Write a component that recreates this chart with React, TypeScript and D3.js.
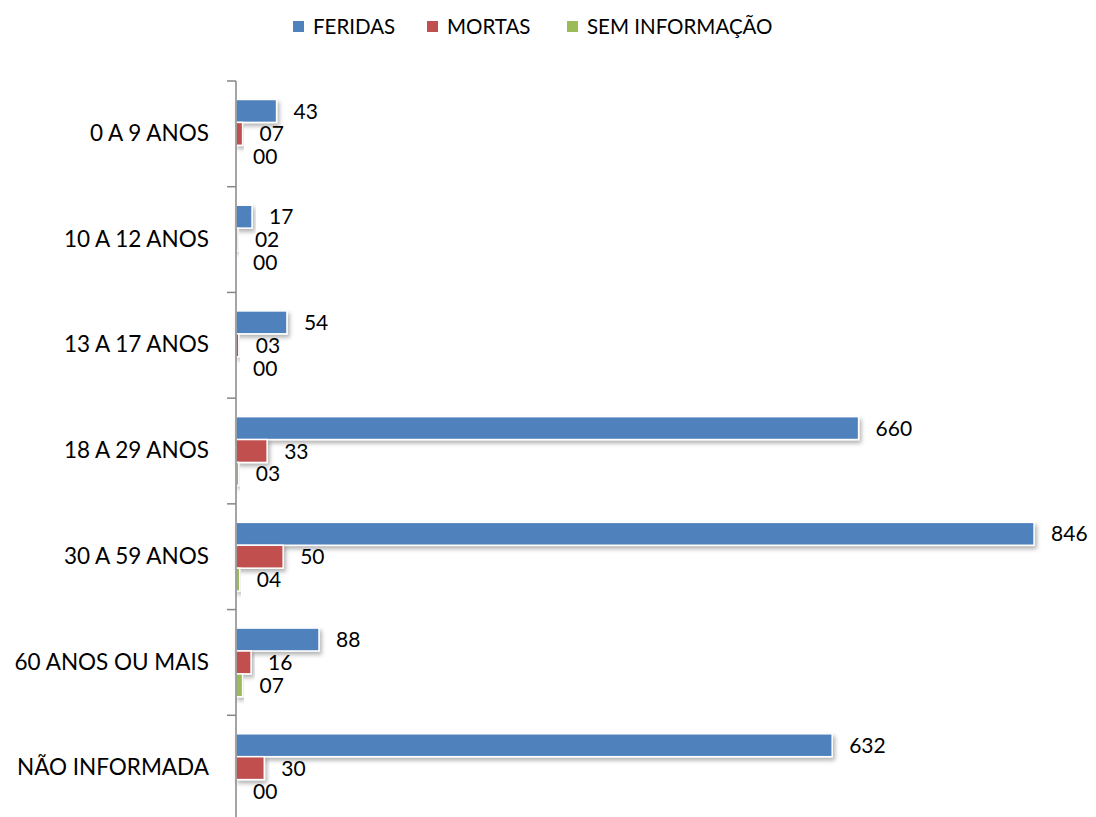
import React, { useEffect, useRef } from "react";
import * as d3 from "d3";

// Vítimas por faixa etária (feridas / mortas / sem informação)

const categories = [
    "0 A 9 ANOS",
    "10 A 12 ANOS",
    "13 A 17 ANOS",
    "18 A 29 ANOS",
    "30 A 59 ANOS",
    "60 ANOS OU MAIS",
    "NÃO INFORMADA",
];
const seriesNames = ["FERIDAS", "MORTAS", "SEM INFORMAÇÃO"];
const seriesColors = ["#4F81BD", "#C0504D", "#9BBB59"];
const feridas = [43, 17, 54, 660, 846, 88, 632];
const mortas = [7, 2, 3, 33, 50, 16, 30];
const semInfo = [0, 0, 0, 3, 4, 7, 0];

const App = () => {
    const svgRef = useRef<SVGSVGElement>(null);

    useEffect(() => {
        const width = 1096;
        const height = 817;
        const font = "Lato, 'Open Sans', sans-serif";
        const values = [feridas, mortas, semInfo];

        const svg = d3.select(svgRef.current);
        svg.selectAll("*").remove();

        const defs = svg.append("defs");
        const f = defs.append("filter").attr("id", "shadow")
            .attr("x", "-10%").attr("y", "-30%").attr("width", "130%").attr("height", "180%");
        f.append("feDropShadow")
            .attr("dx", 2).attr("dy", 3).attr("stdDeviation", 2)
            .attr("flood-color", "#000").attr("flood-opacity", 0.3);

        const x = d3.scaleLinear().domain([0, 900]).range([236, 1085]);
        const y = d3.scaleBand().domain(categories).range([81, 821]).padding(0);
        const inner = d3.scaleBand().domain(seriesNames)
            .range([18.5, y.bandwidth() - 18.5]).padding(0);

        // bars + value labels
        seriesNames.forEach((name, si) => {
            const g = svg.append("g");
            g.selectAll("rect")
                .data(values[si])
                .join("rect")
                .attr("x", x(0))
                .attr("y", (d, i) => y(categories[i])! + inner(name)!)
                .attr("width", d => x(d) - x(0))
                .attr("height", inner.bandwidth())
                .attr("fill", seriesColors[si])
                .attr("stroke", "#fff")
                .attr("stroke-width", 1.5)
                .attr("filter", "url(#shadow)");

            g.selectAll("text")
                .data(values[si])
                .join("text")
                .attr("x", d => x(d) + 17)
                .attr("y", (d, i) => y(categories[i])! + inner(name)! + inner.bandwidth() / 2)
                .attr("dy", "0.36em")
                .attr("font-family", font)
                .attr("font-size", 21)
                .attr("fill", "#000")
                .text(d => d3.format("02d")(d));
        });

        // axis
        const axis = svg.append("g")
            .attr("transform", `translate(${x(0)},0)`)
            .call(d3.axisLeft(y).tickSize(0).tickPadding(27));
        axis.select(".domain").remove();
        axis.selectAll("text")
            .attr("font-family", font)
            .attr("font-size", 22.5)
            .attr("fill", "#000");

        const ticks = [...categories.map(c => y(c)!), y.range()[1]];
        svg.append("g").selectAll("line")
            .data(ticks)
            .join("line")
            .attr("x1", x(0) - 9).attr("x2", x(0))
            .attr("y1", d => d).attr("y2", d => d)
            .attr("stroke", "#868686").attr("stroke-width", 1.5);
        svg.append("line")
            .attr("x1", x(0)).attr("x2", x(0))
            .attr("y1", y.range()[0]).attr("y2", height)
            .attr("stroke", "#868686").attr("stroke-width", 1.5);

        // legend
        const legendX = [293, 427, 567];
        const legend = svg.append("g");
        seriesNames.forEach((name, i) => {
            legend.append("rect")
                .attr("x", legendX[i]).attr("y", 21)
                .attr("width", 11).attr("height", 11)
                .attr("fill", seriesColors[i]);
            legend.append("text")
                .attr("x", legendX[i] + 20).attr("y", 27)
                .attr("dy", "0.36em")
                .attr("font-family", font)
                .attr("font-size", 20.5)
                .attr("fill", "#000")
                .text(name);
        });
    }, []);

    return (
        <svg ref={svgRef} width={1096} height={817}
            style={{ position: "absolute", left: 0, top: 0, background: "#fff" }} />
    );
};

export default App;
